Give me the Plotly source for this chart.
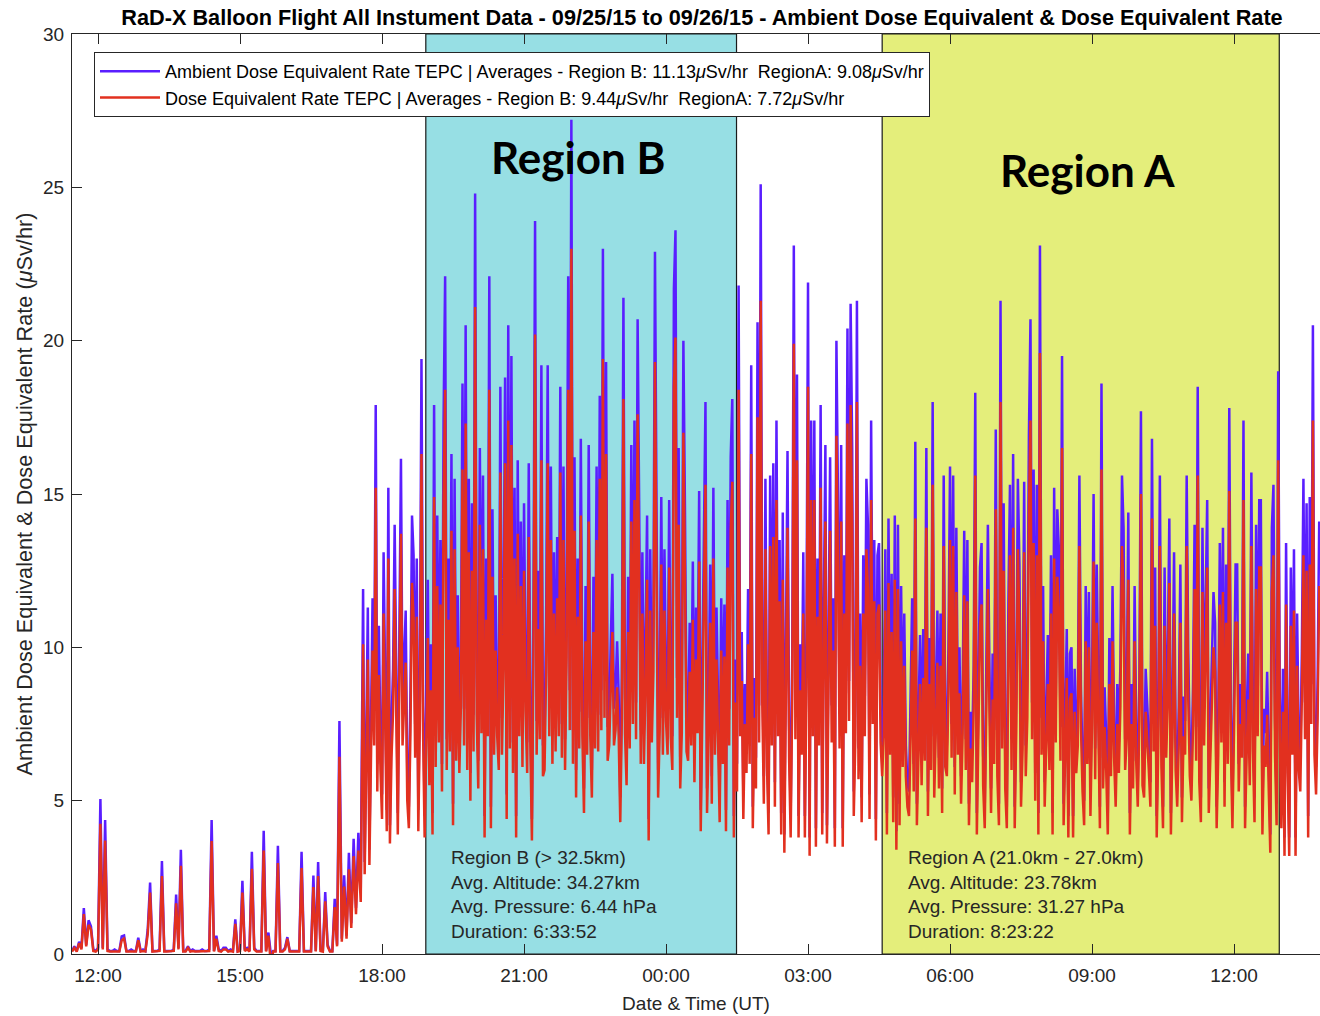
import pandas as pd
import plotly.graph_objects as go

# ---------------- data ----------------
# low-altitude phase, 3-minute samples from 11:27 UT
low_start = "2015-09-25 11:27"
low_amb = [
    0.1, 0.25, 0.1, 0.4, 0.2, 1.5, 0.3, 1.1, 0.9, 0.15,
    0.1, 0.2, 5.05, 0.2, 4.37, 0.15, 0.1, 0.1, 0.15, 0.1,
    0.1, 0.57, 0.6, 0.1, 0.1, 0.15, 0.1, 0.1, 0.53, 0.1,
    0.15, 0.1, 0.8, 2.33, 0.1, 0.1, 0.1, 0.15, 3.03, 0.1,
    0.1, 0.1, 0.1, 0.15, 1.94, 0.2, 3.4, 0.1, 0.1, 0.25,
    0.1, 0.15, 0.1, 0.1, 0.1, 0.15, 0.1, 0.1, 0.15, 4.37,
    0.1, 0.6, 0.15, 0.1, 0.2, 0.2, 0.1, 0.15, 0.1, 1.13,
    0.1, 0.15, 2.39, 0.15, 0.2, 0.1, 3.33, 0.2, 0.1, 0.1,
    0.1, 4.02, 0.1, 0.7, 0.0, 0.1, 0.1, 3.53, 0.1, 0.1,
    0.2, 0.55, 0.1, 0.1, 0.1, 0.1, 0.1, 3.33, 0.1, 0.1,
    0.1, 0.1, 2.56, 0.1, 3.0, 0.15, 0.1, 2.02, 0.3, 0.1,
    0.1, 1.8, 0.3, 7.6, 0.5, 2.57, 0.6, 3.3, 1.0, 3.76,
    1.5, 3.95, 2.0,
]
low_dose = [
    0.08, 0.2, 0.08, 0.35, 0.15, 1.3, 0.25, 0.95, 0.8, 0.1,
    0.08, 0.15, 4.25, 0.15, 3.7, 0.1, 0.08, 0.08, 0.1, 0.08,
    0.08, 0.45, 0.5, 0.08, 0.08, 0.1, 0.08, 0.08, 0.45, 0.08,
    0.1, 0.08, 0.65, 2.0, 0.08, 0.08, 0.08, 0.1, 2.54, 0.08,
    0.08, 0.08, 0.08, 0.1, 1.65, 0.15, 2.88, 0.08, 0.08, 0.2,
    0.08, 0.1, 0.08, 0.08, 0.08, 0.1, 0.08, 0.08, 0.1, 3.68,
    0.08, 0.5, 0.1, 0.08, 0.15, 0.15, 0.08, 0.1, 0.08, 0.98,
    0.08, 0.1, 2.0, 0.1, 0.15, 0.08, 2.78, 0.15, 0.08, 0.08,
    0.08, 3.37, 0.08, 0.6, -0.3, 0.08, 0.08, 2.97, 0.08, 0.08,
    0.15, 0.5, 0.08, 0.08, 0.08, 0.08, 0.08, 2.8, 0.08, 0.08,
    0.08, 0.08, 2.18, 0.08, 2.54, 0.1, 0.08, 1.72, 0.25, 0.08,
    0.08, 1.53, 0.25, 6.43, 0.4, 2.2, 0.5, 2.76, 0.85, 3.19,
    1.3, 3.37, 1.7,
]

# ascent, 2-minute samples from 17:36 UT
rise_start = "2015-09-25 17:36"
rise_amb = [
    11.9, 3.0, 6.5, 11.3, 3.4, 7.8, 11.6, 8.0, 17.9, 6.2,
    10.7, 7.0, 5.2, 13.1, 9.5, 4.7, 15.2, 4.2, 7.5, 9.3,
    14.0, 8.2, 4.6, 10.5, 16.15, 8.0, 9.8, 11.2, 5.9, 4.8,
    8.5, 14.3, 13.0, 7.5, 12.9, 4.7, 9.0, 19.4, 8.6, 4.5,
]
rise_dose = [
    10.1, 2.6, 5.5, 9.6, 2.9, 6.6, 9.9, 6.8, 15.2, 5.3,
    9.1, 6.0, 4.4, 11.1, 8.1, 4.0, 12.9, 3.6, 6.4, 7.9,
    11.9, 7.0, 3.9, 8.9, 13.7, 6.8, 8.3, 9.5, 5.0, 4.1,
    7.2, 12.1, 11.0, 6.4, 11.0, 4.0, 7.7, 16.3, 7.3, 3.8,
]

# Region B float, 2-minute samples from 18:56 UT
regb_start = "2015-09-25 18:56"
regb_amb = [
    8.0, 12.2, 6.5, 10.1, 4.6, 17.9, 7.2, 14.3, 8.1, 13.5,
    6.2, 17.4, 22.1, 7.0, 12.9, 7.8, 16.3, 4.9, 15.5, 7.4,
    11.7, 6.9, 9.5, 18.6, 8.0, 20.5, 7.1, 15.5, 5.9, 14.7,
    7.8, 24.8, 9.2, 6.3, 16.5, 8.5, 15.6, 4.5, 12.9, 8.3,
    22.1, 4.8, 14.5, 7.6, 11.7, 8.4, 7.1, 18.5, 7.7, 10.9,
    18.8, 5.2, 20.5, 7.9, 19.5, 6.9, 15.2, 4.5, 16.1, 8.4,
    14.1, 7.2, 14.7, 9.3, 6.9, 16.0, 8.1, 4.4, 11.6, 23.9,
    7.6, 12.5, 8.2, 19.2, 6.8, 7.1, 10.8, 19.2, 8.3, 15.9,
    7.3, 13.1, 7.8, 13.6, 8.4, 18.5, 7.5, 15.9, 7.0, 11.4,
    22.1, 8.6, 27.2, 7.3, 16.2, 6.0, 12.9, 7.9, 16.8, 8.3,
    5.4, 12.0, 7.7, 16.6, 8.3, 6.0, 12.3, 7.9, 15.9, 7.8,
    18.2, 8.6, 23.0, 9.1, 19.3, 7.4, 8.0, 10.7, 12.4, 8.0,
    8.6, 10.2, 8.4, 5.1, 9.0, 21.4, 8.5, 6.5, 12.3, 7.9,
    16.6, 8.8, 17.4, 8.2, 20.7, 14.5, 7.3, 13.1, 7.3, 10.4,
    14.3, 4.4, 13.2, 8.1, 10.8, 22.9, 13.3, 6.0, 8.6, 14.9,
    7.7, 13.2, 8.9, 7.6, 14.8, 8.4, 7.1, 21.7, 23.6, 9.0,
    16.5, 6.4, 8.5, 20.0, 14.5, 7.8, 7.4, 10.8, 8.0, 12.8,
    6.6, 11.3, 8.5, 15.1, 4.7, 9.3, 15.4, 18.0, 5.4, 8.2,
    12.7, 5.8, 15.2, 7.6, 11.3, 8.1, 5.1, 11.6, 7.3, 11.4,
    4.7, 14.8, 8.0, 16.2, 18.1, 4.5, 9.6,
]
regb_dose = [
    6.8, 10.3, 5.5, 8.6, 3.9, 14.9, 6.1, 12.0, 6.9, 11.4,
    5.3, 14.7, 18.4, 6.0, 10.9, 6.6, 13.8, 4.2, 13.2, 6.3,
    10.0, 5.9, 8.1, 15.8, 6.8, 17.3, 6.0, 13.1, 5.0, 12.5,
    6.6, 21.1, 7.8, 5.4, 14.0, 7.2, 13.2, 3.8, 10.9, 7.1,
    18.4, 4.1, 12.3, 6.5, 9.9, 7.1, 6.0, 15.7, 6.5, 9.3,
    16.0, 4.4, 17.4, 6.7, 16.6, 5.9, 12.9, 3.8, 13.7, 7.1,
    12.0, 6.1, 12.5, 7.9, 5.9, 13.6, 6.9, 3.7, 9.9, 20.2,
    6.5, 10.6, 7.0, 16.1, 5.8, 6.0, 9.2, 16.0, 7.1, 13.5,
    6.2, 11.1, 6.6, 11.6, 7.1, 15.7, 6.4, 13.5, 6.0, 9.7,
    18.4, 7.3, 23.0, 6.2, 13.8, 5.1, 11.0, 6.7, 14.3, 7.1,
    4.6, 10.2, 6.5, 14.1, 7.1, 5.1, 10.5, 6.7, 13.5, 6.6,
    15.5, 7.3, 19.4, 7.7, 16.3, 6.3, 6.8, 9.1, 10.5, 6.8,
    7.3, 8.7, 7.1, 4.3, 7.7, 18.1, 7.2, 5.5, 10.5, 6.7,
    14.1, 7.5, 14.8, 7.0, 17.6, 12.3, 6.2, 11.1, 6.2, 8.8,
    12.2, 3.7, 11.2, 6.9, 9.2, 19.3, 11.3, 5.1, 7.3, 12.7,
    6.5, 11.2, 7.6, 6.5, 12.6, 7.1, 6.0, 18.5, 20.1, 7.7,
    14.0, 5.4, 7.2, 17.0, 12.3, 6.6, 6.3, 9.2, 6.8, 10.9,
    5.6, 9.6, 7.2, 12.8, 4.0, 7.9, 13.1, 15.3, 4.6, 7.0,
    10.8, 4.9, 12.9, 6.5, 9.6, 6.9, 4.3, 9.9, 6.2, 9.7,
    4.0, 12.6, 6.8, 13.8, 15.4, 3.8, 8.2,
]

# descent between the two regions, 2-minute samples from 01:30 UT
gap_start = "2015-09-26 01:30"
gap_amb = [
    6.2, 21.8, 8.4, 10.5, 5.2, 8.8, 6.9, 11.9, 7.3, 19.2,
    4.8, 9.0, 6.4, 20.6, 8.1, 25.1, 9.7, 5.8, 15.5, 7.2,
    4.6, 15.6, 8.0, 16.0, 5.6, 17.4, 8.3, 13.5, 4.6, 14.4,
    3.9, 10.6, 16.4, 7.5, 4.5, 9.8, 23.1, 8.2, 18.9, 4.5,
    10.1, 7.6, 13.1, 4.5, 10.3, 21.9, 3.8, 17.4, 8.4, 17.4,
    4.1, 12.9, 8.0, 17.9, 4.6, 11.3, 16.6, 4.2, 11.7, 16.2,
    8.1, 11.6, 4.1, 20.0, 14.8, 7.9, 16.6, 4.1, 13.0, 8.5,
    20.4, 8.9, 21.2, 16.5, 5.3, 8.2, 21.3, 6.7, 11.1, 5.1,
    13.0, 8.4, 15.5, 14.0, 5.2, 17.4, 8.8, 13.5, 4.4, 13.0,
    13.4, 8.1, 6.8,
]
gap_dose = [
    5.3, 18.4, 7.1, 8.9, 4.4, 7.5, 5.9, 10.1, 6.2, 16.3,
    4.1, 7.7, 5.4, 17.5, 6.9, 21.3, 8.2, 4.9, 13.2, 6.1,
    3.9, 13.3, 6.8, 13.6, 4.8, 14.8, 7.1, 11.5, 3.9, 12.2,
    3.3, 9.0, 13.9, 6.4, 3.8, 8.3, 19.9, 7.0, 16.1, 3.8,
    8.6, 6.5, 11.1, 3.8, 8.8, 18.5, 3.2, 14.8, 7.1, 14.8,
    3.5, 11.0, 6.8, 15.2, 3.9, 9.6, 14.1, 3.6, 9.9, 13.8,
    6.9, 9.9, 3.5, 16.9, 12.6, 6.7, 14.1, 3.5, 11.1, 7.2,
    17.3, 7.6, 17.9, 14.0, 4.5, 7.0, 18.0, 5.7, 9.4, 4.3,
    11.1, 7.1, 13.2, 11.9, 4.4, 14.8, 7.5, 11.5, 3.7, 11.1,
    11.4, 6.9, 5.8,
]

# Region A float, 2-minute samples from 04:36 UT
rega_start = "2015-09-26 04:36"
rega_amb = [
    8.3, 13.2, 4.6, 14.2, 7.6, 12.4, 5.1, 14.3, 4.0, 14.0,
    4.9, 12.0, 7.2, 11.1, 6.8, 5.6, 5.3, 8.4, 11.6, 6.2,
    16.7, 4.9, 7.8, 10.4, 6.5, 10.6, 7.4, 16.5, 5.3, 10.3,
    7.1, 18.0, 6.0, 8.9, 11.2, 6.4, 11.1, 5.4, 15.6, 7.2,
    6.8, 10.0, 15.9, 7.5, 15.6, 6.1, 13.9, 7.7, 10.0, 5.8,
    8.5, 13.8, 7.0, 13.5, 4.9, 7.9, 6.6, 9.4, 18.3, 4.6,
    8.1, 12.6, 13.4, 6.5, 4.8, 8.8, 14.0, 9.3, 5.4, 9.8,
    7.3, 17.1, 6.8, 4.9, 21.3, 7.9, 14.7, 6.3, 4.8, 11.5,
    15.3, 7.0, 16.3, 4.8, 8.6, 15.5, 12.7, 5.6, 7.9, 15.4,
    6.8, 9.1, 16.9, 20.7, 8.2, 15.8, 5.9, 15.3, 4.6, 23.1,
    7.7, 12.0, 5.6, 8.0, 10.4, 7.1, 13.0, 4.6, 15.2, 8.1,
    14.5, 13.2, 7.4, 19.5, 4.9, 7.6, 10.6, 4.5, 9.8, 10.0,
    4.5, 9.3, 6.9, 8.0, 15.6, 8.7, 6.2, 5.0, 12.0, 7.3,
    11.8, 5.3, 8.8, 15.0, 6.7, 12.7, 7.9, 4.8, 18.6, 6.4,
    8.7, 7.1, 4.6, 10.3, 6.8, 12.0, 7.5, 5.6, 8.8, 6.9,
    9.5, 15.6, 13.9, 7.0, 8.2, 14.4, 4.6, 8.8, 6.3, 12.0,
    7.4, 5.6, 8.9, 17.7, 6.5, 6.0, 9.3, 8.3, 7.0, 5.6,
    16.8, 7.8, 12.6, 4.5, 8.0, 15.6, 7.2, 4.8, 12.6, 7.5,
    9.6, 14.2, 4.6, 8.3, 13.1, 7.0, 5.6, 8.1, 12.7, 5.1,
    8.4, 7.6, 15.6, 9.8, 6.8, 5.9, 8.7, 14.0, 7.4, 18.5,
    6.6, 5.1, 13.9, 8.0, 11.1, 14.8, 5.4, 7.8, 9.1, 11.8,
    10.8, 4.8, 7.6, 13.4, 8.1, 13.9, 5.6, 12.7, 7.3, 17.8,
    7.9, 4.8, 8.6, 12.7, 12.7, 6.2, 8.8, 7.5, 17.4, 4.8,
    7.7, 9.8, 6.5, 15.7, 7.8, 5.1, 14.0, 8.3, 14.8, 14.8,
    4.6, 8.0, 7.2, 9.2, 6.4, 3.9, 13.9, 15.3, 7.6, 4.9,
    19.0,
]
rega_dose = [
    7.1, 11.2, 3.9, 12.1, 6.5, 10.5, 4.3, 12.2, 3.4, 11.9,
    4.2, 10.2, 6.1, 9.4, 5.8, 4.8, 4.5, 7.1, 9.9, 5.3,
    14.2, 4.2, 6.6, 8.8, 5.5, 9.0, 6.3, 13.9, 4.5, 8.8,
    6.0, 15.3, 5.1, 7.6, 9.5, 5.4, 9.4, 4.6, 13.3, 6.1,
    5.8, 8.5, 13.5, 6.4, 13.3, 5.2, 11.8, 6.5, 8.5, 4.9,
    7.2, 11.7, 6.0, 11.5, 4.2, 6.7, 5.6, 8.0, 15.6, 3.9,
    6.9, 10.7, 11.4, 5.5, 4.1, 7.5, 11.9, 7.9, 4.6, 8.3,
    6.2, 14.5, 5.8, 4.2, 18.0, 6.7, 12.5, 5.4, 4.1, 9.8,
    13.0, 6.0, 13.9, 4.1, 7.3, 13.2, 10.8, 4.8, 6.7, 13.1,
    5.8, 7.7, 14.4, 17.4, 7.0, 13.4, 5.0, 13.0, 3.9, 19.6,
    6.5, 10.2, 4.8, 6.8, 8.8, 6.0, 11.1, 3.9, 12.9, 6.9,
    12.3, 11.2, 6.3, 16.5, 4.2, 6.5, 9.0, 3.8, 8.3, 8.5,
    3.8, 7.9, 5.9, 6.8, 13.3, 7.4, 5.3, 4.2, 10.2, 6.2,
    10.0, 4.5, 7.5, 12.8, 5.7, 10.8, 6.7, 4.1, 15.8, 5.4,
    7.4, 6.0, 3.9, 8.8, 5.8, 10.2, 6.4, 4.8, 7.5, 5.9,
    8.1, 13.3, 11.8, 6.0, 7.0, 12.2, 3.9, 7.5, 5.4, 10.2,
    6.3, 4.8, 7.6, 15.0, 5.5, 5.1, 7.9, 7.1, 6.0, 4.8,
    14.2, 6.6, 10.7, 3.8, 6.8, 13.3, 6.1, 4.1, 10.7, 6.4,
    8.2, 12.1, 3.9, 7.1, 11.1, 6.0, 4.8, 6.9, 10.8, 4.3,
    7.1, 6.5, 13.3, 8.3, 5.8, 5.0, 7.4, 11.9, 6.3, 15.6,
    5.6, 4.3, 11.8, 6.8, 9.4, 12.6, 4.6, 6.6, 7.7, 10.0,
    9.2, 4.1, 6.5, 11.4, 6.9, 11.8, 4.8, 10.8, 6.2, 15.1,
    6.7, 4.1, 7.3, 10.8, 10.8, 5.3, 7.5, 6.4, 14.8, 4.1,
    6.5, 8.3, 5.5, 13.3, 6.6, 4.3, 11.9, 7.1, 12.6, 12.6,
    3.9, 6.8, 6.1, 7.8, 5.4, 3.3, 11.8, 13.0, 6.5, 4.2,
    16.1,
]

# after Region A, 2-minute samples from 12:58 UT
post_start = "2015-09-26 12:58"
post_amb = [
    8.6, 4.8, 9.3, 3.8, 13.4, 6.9, 3.8, 12.6, 7.7, 13.2,
    3.8, 11.1, 7.0, 6.2, 9.9, 15.5, 8.2, 14.7, 4.5, 14.9,
    8.8, 20.5, 7.6, 6.1, 9.0, 14.1,
]
post_dose = [
    7.3, 4.1, 7.9, 3.2, 11.4, 5.9, 3.2, 10.7, 6.5, 11.2,
    3.2, 9.4, 6.0, 5.3, 8.4, 13.0, 7.0, 12.5, 3.8, 12.7,
    7.5, 17.4, 6.5, 5.2, 7.7, 12.0,
]

# flight regions and their statistics
region_b = ("2015-09-25 18:55:30", "2015-09-26 01:29:22")
region_a = ("2015-09-26 04:34:00", "2015-09-26 12:57:22")
region_b_info = ["Region B (> 32.5km)", "Avg. Altitude: 34.27km",
                 "Avg. Pressure: 6.44 hPa", "Duration: 6:33:52"]
region_a_info = ["Region A (21.0km - 27.0km)", "Avg. Altitude: 23.78km",
                 "Avg. Pressure: 31.27 hPa", "Duration: 8:23:22"]
avg_amb = {"B": "11.13", "A": "9.08"}
avg_dose = {"B": "9.44", "A": "7.72"}

x_range = ("2015-09-25 11:27", "2015-09-26 13:49")
tick0 = "2015-09-25 12:00"
y_ticks = [0, 5, 10, 15, 20, 25, 30]

# ---------------- assemble ----------------
sections = [
    (low_start, "3min", low_amb, low_dose),
    (rise_start, "2min", rise_amb, rise_dose),
    (regb_start, "2min", regb_amb, regb_dose),
    (gap_start, "2min", gap_amb, gap_dose),
    (rega_start, "2min", rega_amb, rega_dose),
    (post_start, "2min", post_amb, post_dose),
]
xa, ya, xd, yd = [], [], [], []
for start, step, a, d in sections:
    xa.extend(pd.date_range(start, periods=len(a), freq=step))
    ya.extend(a)
    xd.extend(pd.date_range(start, periods=len(d), freq=step))
    yd.extend(d)

FONT = "Liberation Sans"
INK = "#262626"
BLUE = "#5A1EFF"
RED = "#E2301F"

mu = "<i>\u03bc</i>"
nb = "\u00a0"
fig = go.Figure()
fig.add_trace(go.Scatter(
    x=xa, y=ya, mode="lines", line=dict(color=BLUE, width=2.5),
    name=f"Ambient Dose Equivalent Rate TEPC | Averages - Region B: {avg_amb['B']}{mu}Sv/hr{nb} RegionA: {avg_amb['A']}{mu}Sv/hr",
))
fig.add_trace(go.Scatter(
    x=xd, y=yd, mode="lines", line=dict(color=RED, width=2.5),
    name=f"Dose Equivalent Rate TEPC | Averages - Region B: {avg_dose['B']}{mu}Sv/hr{nb} RegionA: {avg_dose['A']}{mu}Sv/hr",
))

for (x0, x1), col in [(region_b, "#97DFE4"), (region_a, "#E4EE7B")]:
    fig.add_shape(type="rect", xref="x", yref="paper", x0=x0, x1=x1, y0=0, y1=1,
                  fillcolor=col, line=dict(color="#1a1a1a", width=1.2), layer="below")

fig.add_annotation(x="2015-09-25 22:08:40", y=26.0, xref="x", yref="y", text="<b>Region B</b>",
                   showarrow=False, font=dict(family="Lato", size=44, color="black"))
fig.add_annotation(x="2015-09-26 08:53:40", y=25.56, xref="x", yref="y", text="<b>Region A</b>",
                   showarrow=False, font=dict(family="Lato", size=44, color="black"))

fig.add_annotation(x="2015-09-25 19:25:00", y=1.95, xref="x", yref="y", text="<br>".join(region_b_info),
                   showarrow=False, xanchor="left", yanchor="middle", align="left",
                   font=dict(family=FONT, size=19, color=INK))
fig.add_annotation(x="2015-09-26 05:04:10", y=1.95, xref="x", yref="y", text="<br>".join(region_a_info),
                   showarrow=False, xanchor="left", yanchor="middle", align="left",
                   font=dict(family=FONT, size=19, color=INK))

fig.update_layout(
    width=1320, height=1016,
    margin=dict(l=72, r=0, t=34, b=62),
    paper_bgcolor="white", plot_bgcolor="white",
    font=dict(family=FONT, color=INK, size=19),
    title=dict(text="<b>RaD-X Balloon Flight All Instument Data - 09/25/15 to 09/26/15 - Ambient Dose Equivalent & Dose Equivalent Rate</b>",
               x=702 / 1320, xanchor="center", xref="container",
               y=1 - 17 / 1016, yanchor="middle", yref="container",
               font=dict(family=FONT, size=21.7, color="black")),
    showlegend=True,
    legend=dict(x=(94 - 72) / 1248, y=(954 - 52) / 920, xanchor="left", yanchor="top",
                bgcolor="white", bordercolor=INK, borderwidth=1,
                font=dict(family=FONT, size=18, color="black"), itemwidth=60,
                tracegroupgap=0),
)
fig.update_xaxes(
    type="date", range=list(x_range), tick0=tick0, dtick=3 * 3600 * 1000, tickformat="%H:%M",
    ticks="inside", ticklen=10, tickcolor=INK, showline=True, linecolor=INK, linewidth=1,
    mirror="ticks", showgrid=False, zeroline=False, ticklabelstandoff=4,
    title=dict(text="Date & Time (UT)", font=dict(size=19, color=INK), standoff=11),
    tickfont=dict(size=19, color=INK),
)
fig.update_yaxes(
    range=[0, 30], tickvals=y_ticks, ticks="inside", ticklen=10, tickcolor=INK,
    showline=True, linecolor=INK, linewidth=1, mirror=False, showgrid=False, zeroline=False,
    ticklabelstandoff=3,
    title=dict(text=f"Ambient Dose Equivalent & Dose Equivalent Rate ({mu}Sv/hr)", font=dict(size=21.7, color=INK), standoff=4),
    tickfont=dict(size=19, color=INK),
)

fig.write_html("out.html")
